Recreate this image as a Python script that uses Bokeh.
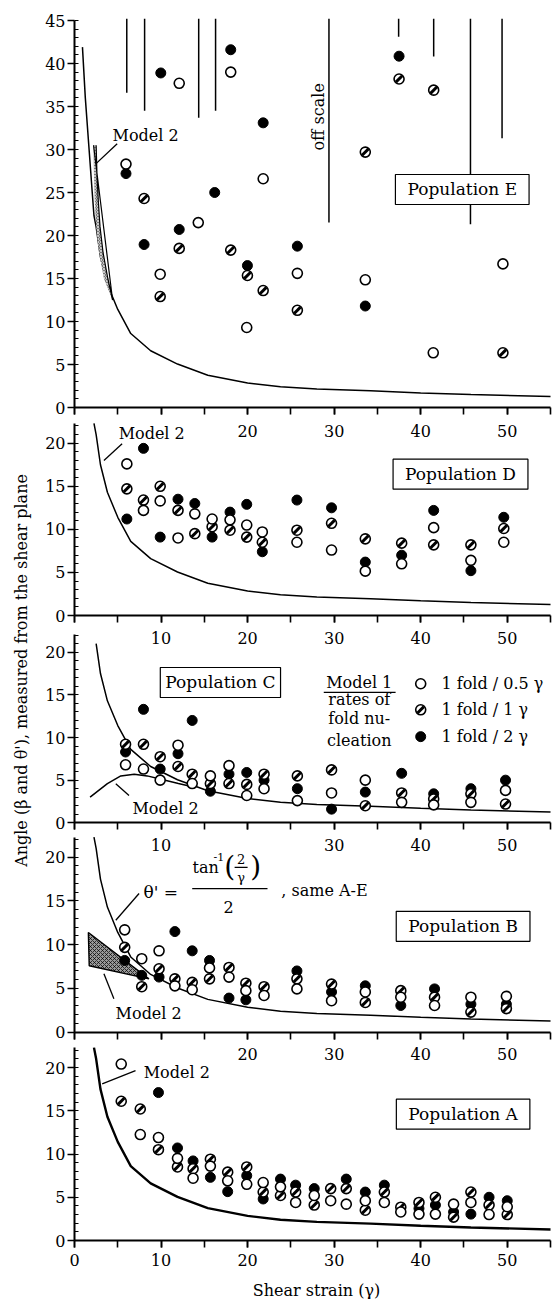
import math
from bokeh.plotting import figure
from bokeh.models import Range1d, LinearAxis, SingleIntervalTicker, Label
from bokeh.embed import file_html
from bokeh.resources import INLINE

FONT = "DejaVu Serif"

# ---------------- data ----------------
# common curve theta' (shear strain gamma, angle in degrees)
CURVE_G = [0.92, 1.25, 1.65, 2.05, 2.25, 2.5, 3.0, 3.8, 5.0, 6.5, 8.8, 11.9, 15.4, 20.0, 23.8, 28.0, 34.2, 40.0, 45.8, 55.0]
CURVE_T = [41.9, 36.0, 30.5, 25.0, 22.3, 21.0, 17.5, 14.3, 11.4, 8.6, 6.6, 5.05, 3.75, 2.85, 2.4, 2.15, 1.95, 1.7, 1.5, 1.28]

# Model 2 band, population E (x1 = left edge, x2 = right edge at angle y)
M2E_Y = [30.5, 27.0, 24.0, 21.0, 18.0, 15.0, 12.5]
M2E_X1 = [2.2, 2.25, 2.35, 2.5, 2.85, 3.4, 4.4]
M2E_X2 = [2.5, 2.6, 2.75, 2.95, 3.3, 3.85, 4.4]
# Model 2 curve, population C
M2C_G = [1.8, 3.8, 5.35, 6.9, 8.4, 10.0, 12.0, 14.0]
M2C_T = [3.0, 4.6, 5.5, 5.7, 5.5, 5.1, 4.6, 4.15]
# Model 2 wedge, population B
M2B_G = [1.6, 8.6, 1.7]
M2B_T = [11.4, 6.1, 7.6]

# off-scale markers, population E
OFF_X = [6.04, 8.1, 14.35, 16.3, 29.4, 37.45, 41.5, 45.75, 49.4]
OFF_LOW = [36.6, 34.5, 33.7, 34.5, 21.5, 43.1, 40.8, 21.3, 31.3]
OFF_TOP = 45.2

# Population E
E_OPEN_X = [5.95, 12.1, 18.05, 21.8, 14.3, 9.9, 19.9, 25.75, 33.6, 41.45, 49.5]
E_OPEN_Y = [28.3, 37.7, 39.0, 26.6, 21.5, 15.5, 9.3, 15.6, 14.85, 6.36, 16.7]
E_HATCH_X = [8.04, 12.1, 18.05, 19.98, 21.8, 9.9, 25.75, 49.5, 37.5, 41.5, 33.6]
E_HATCH_Y = [24.3, 18.5, 18.3, 15.35, 13.6, 12.9, 11.3, 6.36, 38.2, 36.9, 29.7]
E_FILL_X = [9.97, 18.05, 21.8, 5.95, 16.2, 12.1, 8.04, 19.98, 25.75, 33.6, 37.5]
E_FILL_Y = [38.9, 41.6, 33.1, 27.2, 25.0, 20.7, 18.95, 16.5, 18.76, 11.8, 40.85]

# Population D
D_X = [6.05, 7.97, 9.9, 11.96, 13.9, 15.9, 17.97, 19.9, 21.7, 25.7, 29.7, 33.6, 37.8, 41.5, 45.8, 49.6]
D_OPEN_Y = [17.6, 12.2, 13.3, 9.0, 11.8, 11.2, 11.1, 10.5, 9.7, 8.5, 7.6, 5.15, 6.0, 10.2, 6.4, 8.5]
D_HATCH_Y = [14.7, 13.4, 15.0, 12.2, 9.5, 10.3, 9.9, 9.1, 8.5, 9.9, 10.7, 8.9, 8.4, 8.2, 8.2, 10.1]
D_FILL_Y = [11.2, 19.4, 9.1, 13.5, 13.0, 9.1, 12.0, 12.9, 7.4, 13.4, 12.5, 6.2, 7.0, 12.2, 5.2, 11.4]

# Population C
C_X = [5.9, 7.97, 9.9, 11.96, 13.6, 15.7, 17.85, 19.9, 21.9, 25.75, 29.7, 33.6, 37.8, 41.5, 45.8, 49.8]
C_OPEN_Y = [6.8, 6.3, 5.0, 9.1, 4.6, 5.5, 6.7, 3.2, 4.0, 2.6, 3.5, 5.0, 2.4, 2.1, 2.4, 3.8]
C_HATCH_Y = [9.2, 9.2, 7.75, 6.6, 5.7, 4.6, 4.6, 4.5, 5.7, 5.5, 6.2, 2.0, 3.5, 2.8, 3.4, 2.2]
C_FILL_Y = [8.3, 13.3, 6.3, 8.1, 12.0, 3.7, 5.7, 5.9, 5.0, 4.0, 1.6, 3.6, 5.8, 3.4, 4.0, 5.0]

# Population B
B_X = [5.8, 7.77, 9.77, 11.6, 13.6, 15.6, 17.85, 19.8, 21.9, 25.7, 29.7, 33.6, 37.7, 41.6, 45.8, 49.9]
B_OPEN_Y = [11.7, 8.4, 9.3, 5.3, 4.85, 7.35, 6.3, 4.75, 4.2, 4.95, 3.6, 4.6, 4.0, 3.05, 4.0, 4.1]
B_HATCH_Y = [9.7, 5.2, 7.25, 6.1, 5.7, 6.1, 7.4, 5.6, 5.2, 6.1, 5.5, 3.4, 4.75, 4.0, 2.3, 2.7]
B_FILL_X = [5.8, 7.77, 9.77, 11.6, 13.6, 15.6, 17.85, 19.8, 25.7, 29.7, 33.6, 37.7, 41.6, 45.8, 49.9]
B_FILL_Y = [8.2, 6.5, 6.3, 11.5, 9.3, 8.2, 3.9, 3.7, 7.0, 4.6, 5.3, 3.05, 4.95, 3.2, 3.2]

# Population A
A_X = [5.4, 7.6, 9.7, 11.9, 13.7, 15.7, 17.7, 19.9, 21.8, 23.8, 25.55, 27.7, 29.6, 31.4, 33.6, 35.8, 37.7, 39.8, 41.7, 43.8, 45.8, 47.9, 50.0]
A_OPEN_Y = [20.4, 12.25, 11.9, 9.5, 7.2, 8.6, 6.9, 6.5, 6.7, 6.2, 4.4, 5.2, 4.6, 4.2, 4.6, 4.4, 3.3, 3.05, 3.05, 4.2, 4.4, 3.0, 3.9]
A_HATCH_Y = [16.1, 15.2, 10.5, 8.5, 8.3, 9.4, 7.9, 8.5, 5.6, 5.2, 5.6, 4.1, 6.0, 6.0, 3.5, 5.6, 3.85, 4.4, 5.0, 2.7, 5.6, 4.1, 3.0]
A_FILL_X = [9.7, 11.9, 13.7, 15.7, 17.7, 19.9, 21.8, 23.8, 25.55, 27.7, 31.4, 33.6, 35.8, 39.8, 41.7, 43.8, 45.8, 47.9, 50.0]
A_FILL_Y = [17.1, 10.7, 9.2, 7.3, 5.65, 7.5, 4.8, 7.1, 6.4, 6.0, 7.1, 5.6, 6.4, 3.7, 4.1, 3.3, 3.05, 5.0, 4.6]

# ---------------- layout (canvas px) ----------------
W, H = 558, 1299
X0_PX, SX = 74.0, 8.655          # x = 0 position and px per unit of shear strain
FRAME_TOP, FRAME_BOT = 0.0, float(H)
# zero line (px), px per degree, top of spine (deg)
PANEL = {
    "E": (407.0, 8.6, 45.0),
    "D": (615.0, 8.615, 22.3),
    "C": (822.3, 8.53, 22.1),
    "B": (1031.7, 8.75, 22.3),
    "A": (1240.0, 8.65, 22.3),
}


def yrange(k):
    z, s, _ = PANEL[k]
    return Range1d(start=-(FRAME_BOT - z) / s, end=(z - FRAME_TOP) / s)


def rn(k):
    return "default" if k == "A" else k


p = figure(width=W, height=H, x_range=Range1d(-X0_PX / SX, (W - X0_PX) / SX), y_range=yrange("A"),
           x_axis_type=None, y_axis_type=None, output_backend="svg",
           toolbar_location=None, min_border_left=0, min_border_right=0,
           min_border_top=0, min_border_bottom=0)
p.extra_y_ranges = {k: yrange(k) for k in "EDCB"}
p.outline_line_color = None
p.background_fill_color = "white"
p.border_fill_color = "white"

# left axes
for k in "EDCBA":
    ax = LinearAxis(y_range_name=rn(k), fixed_location=0, bounds=(0, PANEL[k][2]),
                    ticker=SingleIntervalTicker(interval=5, num_minor_ticks=5))
    ax.axis_line_width = 2
    ax.axis_line_color = "black"
    ax.major_tick_line_width = 1.6
    ax.major_tick_out = 7
    ax.major_tick_in = 0
    ax.minor_tick_out = 0
    ax.minor_tick_in = 4
    ax.minor_tick_line_width = 1
    ax.major_label_text_font = FONT
    ax.major_label_text_font_size = "16px"
    ax.major_label_text_color = "black"
    ax.major_label_standoff = 2
    p.add_layout(ax, "left")

# bottom axes of the stacked panels (labels of the panel above fall in the panel below)
HIDE = {"E": [0, 10], "D": [0], "C": [0, 20], "B": [0, 10], "A": []}
STANDOFF = {"E": 10, "D": 9, "C": 9, "B": 9, "A": 6}
for k in "EDCBA":
    ax = LinearAxis(y_range_name=rn(k), fixed_location=0, bounds=(0, 55),
                    ticker=SingleIntervalTicker(interval=10, num_minor_ticks=2))
    ax.major_label_overrides = {v: "" for v in HIDE[k]}
    ax.axis_line_width = 2
    ax.axis_line_color = "black"
    ax.major_tick_line_width = 1.6
    ax.minor_tick_line_width = 1.6
    ax.major_tick_out = 7
    ax.major_tick_in = 0
    ax.minor_tick_out = 7
    ax.minor_tick_in = 0
    ax.major_label_text_font = FONT
    ax.major_label_text_font_size = "16px"
    ax.major_label_text_color = "black"
    ax.major_label_standoff = STANDOFF[k]
    p.add_layout(ax, "below")

# ---------------- curves ----------------
for k in "EDCBA":
    top = PANEL[k][2]
    g = [a for a, t in zip(CURVE_G, CURVE_T) if t <= top + 0.01]
    t = [b for b in CURVE_T if b <= top + 0.01]
    p.line(g, t, y_range_name=rn(k), line_color="black", line_width=2.4 if k == "A" else 1.5)

p.harea(x1=M2E_X1, x2=M2E_X2, y=M2E_Y, y_range_name="E", fill_color="#777777",
        hatch_pattern="x", hatch_color="white", hatch_scale=3, hatch_weight=0.6)
p.line(M2E_X2 + [M2E_X1[0]], M2E_Y + [M2E_Y[0]], y_range_name="E", line_color="black", line_width=1.2)
p.line(M2C_G, M2C_T, y_range_name="C", line_color="black", line_width=1.5)
p.patch(M2B_G, M2B_T, y_range_name="B", fill_color="#999999", line_color="black", line_width=1.4,
        hatch_pattern="x", hatch_color="black", hatch_scale=4, hatch_weight=0.7)

# off-scale markers
p.segment(x0=OFF_X, y0=[OFF_TOP] * len(OFF_X), x1=OFF_X, y1=OFF_LOW, y_range_name="E",
          line_color="black", line_width=1.5)

# ---------------- points ----------------
MS = 10


def filled(k, xs, ys):
    p.scatter(xs, ys, y_range_name=rn(k), marker="circle", size=MS, fill_color="black", line_color="black", line_width=1)


def hatched(k, xs, ys):
    p.scatter(xs, ys, y_range_name=rn(k), marker="circle", size=MS, fill_color="white", line_color="black", line_width=1.6)
    p.scatter(xs, ys, y_range_name=rn(k), marker="dash", angle=math.pi / 4, size=MS - 1, line_color="black", line_width=3)


def opened(k, xs, ys):
    p.scatter(xs, ys, y_range_name=rn(k), marker="circle", size=MS, fill_color="white", line_color="black", line_width=1.6)


filled("E", E_FILL_X, E_FILL_Y); hatched("E", E_HATCH_X, E_HATCH_Y); opened("E", E_OPEN_X, E_OPEN_Y)
filled("D", D_X, D_FILL_Y); hatched("D", D_X, D_HATCH_Y); opened("D", D_X, D_OPEN_Y)
filled("C", C_X, C_FILL_Y); hatched("C", C_X, C_HATCH_Y); opened("C", C_X, C_OPEN_Y)
filled("B", B_FILL_X, B_FILL_Y); hatched("B", B_X, B_HATCH_Y); opened("B", B_X, B_OPEN_Y)
filled("A", A_FILL_X, A_FILL_Y); hatched("A", A_X, A_HATCH_Y); opened("A", A_X, A_OPEN_Y)

# ---------------- annotations ----------------


def txt(k, x, y, s, size=16, align="left", angle=0.0, **kw):
    lab = Label(x=x, y=y, y_range_name=rn(k), text=s, text_font=FONT, text_font_size=f"{size}px",
                text_align=align, text_baseline="middle", angle=angle, text_color="black", **kw)
    p.add_layout(lab)
    return lab


def box(k, x, y, s, pad=12):
    txt(k, x, y, s, size=17, align="center", border_line_color="black", border_line_width=1.2,
        background_fill_color="white", padding=dict(left=pad, right=pad, top=5, bottom=5))


box("E", 44.8, 25.35, "Population E")
box("D", 44.6, 16.4, "Population D")
box("C", 16.86, 16.45, "Population C", pad=5)
box("B", 44.9, 12.1, "Population B")
box("A", 44.9, 14.6, "Population A")

# Model 2 labels with leaders
M2_LAB = {"E": (4.4, 31.6), "D": (5.1, 21.1), "C": (6.7, 1.7), "B": (4.75, 2.1), "A": (8.0, 19.4)}
M2_LEAD = {"E": (4.93, 30.66, 2.46, 28.33), "D": (5.5, 19.93, 3.4, 17.99), "C": (6.3, 3.2, 4.77, 4.57),
           "B": (4.55, 3.82, 3.4, 6.67), "A": (7.05, 19.65, 3.2, 18.1)}
for k in "EDCBA":
    x, y = M2_LAB[k]
    txt(k, x, y, "Model 2")
    x0, y0, x1, y1 = M2_LEAD[k]
    p.segment(x0=[x0], y0=[y0], x1=[x1], y1=[y1], y_range_name=rn(k), line_color="black", line_width=1.3)

txt("E", 28.2, 33.8, "off scale", angle=math.pi / 2, align="center")

# theta' formula (panel B)
txt("B", 7.97, 16.0, "θ' =", size=17)
txt("B", 13.63, 18.8, "tan", size=16)
txt("B", 16.06, 20.0, "-1", size=11)
txt("B", 17.3, 18.95, "(", size=28)
txt("B", 19.25, 19.85, "2", size=13, align="center")
txt("B", 19.25, 17.7, "γ", size=13, align="center")
txt("B", 20.3, 18.95, ")", size=28)
txt("B", 17.8, 14.3, "2", size=16, align="center")
txt("B", 23.9, 16.2, ",  same A-E", size=16)
p.segment(x0=[13.6, 18.5], y0=[16.4, 18.83], x1=[22.3, 20.0], y1=[16.4, 18.83], y_range_name="B",
          line_color="black", line_width=1.3)
p.segment(x0=[7.46], y0=[15.85], x1=[4.77], y1=[12.8], y_range_name="B", line_color="black", line_width=1.3)

# legend in panel C
txt("C", 32.9, 16.5, "Model 1", align="center")
p.segment(x0=[28.8], y0=[15.3], x1=[37.1], y1=[15.3], y_range_name="C", line_color="black", line_width=1.2)
txt("C", 32.9, 14.4, "rates of", align="center")
txt("C", 32.9, 12.2, "fold nu-", align="center")
txt("C", 32.9, 9.65, "cleation", align="center")
opened("C", [40.0], [16.3])
hatched("C", [40.0], [13.25])
filled("C", [40.0], [10.1])
txt("C", 42.4, 16.3, "1 fold / 0.5 γ", size=16)
txt("C", 42.4, 13.25, "1 fold / 1 γ", size=16)
txt("C", 42.4, 10.1, "1 fold / 2 γ", size=16)

# axis titles
txt("D", -6.12, -6.38, "Angle (β and θ'), measured from the shear plane", align="center", angle=math.pi / 2)
txt("A", 27.96, -5.78, "Shear strain (γ)", align="center")

open("out.html", "w").write(file_html(p, INLINE))
